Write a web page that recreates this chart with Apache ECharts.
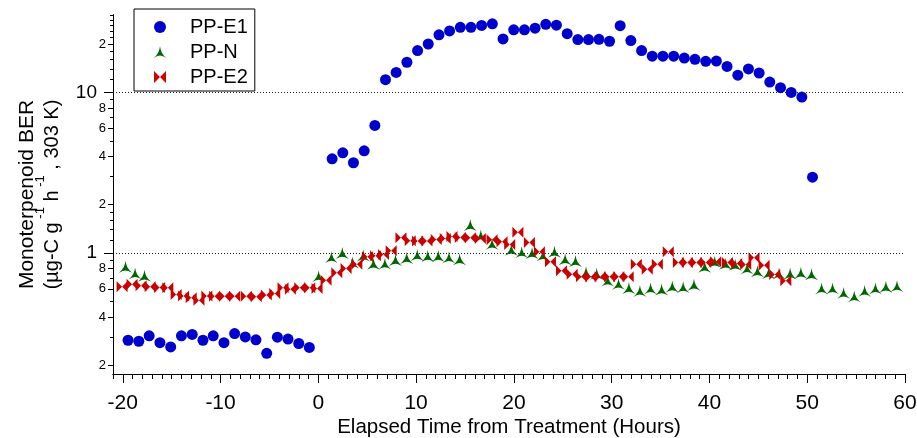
<!DOCTYPE html>
<html><head><meta charset="utf-8">
<script src="https://cdn.jsdelivr.net/npm/echarts@6/dist/echarts.min.js"></script>
<style>html,body{margin:0;padding:0;background:#fff}#c{width:917px;height:438px}</style>
</head><body><div id="c"></div>
<script>
// ---- data (hours from treatment, BER values) ----
const e1Hours = [-19.46,-18.36,-17.30,-16.20,-15.10,-14.00,-12.90,-11.80,-10.75,-9.65,-8.56,-7.47,-6.38,-5.28,-4.19,-3.10,-2.00,-0.92,
  1.41,2.50,3.59,4.69,5.78,6.87,7.96,9.06,10.15,11.24,12.34,13.42,14.52,15.61,16.70,17.80,18.89,19.98,21.08,22.17,23.26,24.35,25.45,26.54,27.63,
  28.70,29.78,30.87,31.96,33.06,34.15,35.24,36.34,37.43,38.52,39.62,40.71,41.80,42.90,43.99,45.08,46.17,47.27,48.36,49.45,50.54];
const e1Values = [0.287,0.283,0.306,0.277,0.261,0.306,0.312,0.287,0.306,0.277,0.316,0.301,0.289,0.238,0.300,0.292,0.274,0.259,
  3.86,4.21,3.65,4.33,6.23,12.0,13.3,15.4,18.2,20.0,22.8,24.1,25.4,25.4,26.1,26.7,21.5,24.5,24.5,25.1,26.5,26.2,23.2,21.3,21.3,
  21.4,20.8,26.0,21.0,18.2,16.8,16.8,16.8,16.35,16.05,15.6,15.66,14.5,12.8,14.0,13.2,11.6,10.7,10.0,9.35,2.97];

const nHours = [-19.72,-18.74,-17.78,0.03,1.34,2.45,3.51,4.60,5.64,6.81,7.89,9.04,10.12,11.19,12.27,13.36,14.45,15.54,16.62,17.77,
  19.74,20.80,21.86,22.97,24.15,25.24,26.30,27.38,28.47,29.60,30.70,31.76,32.89,33.98,35.11,36.20,37.31,38.42,39.51,40.54,41.66,
  42.64,43.85,44.91,46.05,47.12,48.25,49.35,50.44,51.47,52.59,53.72,54.81,55.87,56.98,58.05,59.18];
const nValues = [0.822,0.748,0.722,0.719,0.944,1.000,0.873,0.965,0.858,0.860,0.905,0.931,0.972,0.958,0.958,0.940,0.915,1.494,1.285,1.141,
  1.048,1.014,1.000,0.968,1.019,0.915,0.892,0.760,0.743,0.674,0.643,0.606,0.582,0.603,0.593,0.619,0.614,0.635,0.822,0.883,0.858,
  0.846,0.803,0.770,0.751,0.748,0.746,0.754,0.738,0.603,0.603,0.565,0.538,0.582,0.603,0.617,0.623];

const e2Hours = [-20.07,-19.05,-18.13,-17.20,-16.24,-15.39,-14.54,-13.78,-13.00,-12.21,-11.40,-10.61,-9.58,-8.56,-7.37,-6.35,-5.32,-4.46,-3.61,-2.86,-1.90,-0.88,-0.13,
  0.79,1.89,2.84,3.94,5.02,5.84,6.66,7.45,8.45,9.40,10.15,11.11,12.06,12.98,13.67,14.52,15.54,16.57,17.77,18.79,19.57,20.41,21.59,22.61,23.74,24.87,
  25.96,26.91,27.87,28.82,29.78,30.73,31.69,32.52,33.64,34.67,35.79,36.82,37.74,38.66,39.62,40.64,41.84,42.79,43.71,44.56,45.59,46.68,47.81];
const e2Values = [0.617,0.641,0.626,0.617,0.612,0.608,0.553,0.542,0.527,0.510,0.542,0.540,0.540,0.540,0.540,0.535,0.548,0.561,0.608,0.597,0.608,0.608,0.603,
  0.679,0.754,0.803,0.854,0.948,0.962,0.981,1.033,1.245,1.192,1.188,1.188,1.217,1.235,1.270,1.252,1.245,1.235,1.210,1.176,1.133,1.350,1.166,1.019,0.883,0.776,
  0.740,0.712,0.712,0.712,0.712,0.712,0.712,0.854,0.795,0.854,1.019,0.875,0.875,0.875,0.875,0.883,0.875,0.863,0.851,0.935,0.842,0.737,0.672];

const seriesNames = ['PP-E1','PP-N','PP-E2'];
const xTickValues = [-20,-10,0,10,20,30,40,50,60];
const xTickLabels = ['-20','-10','0','10','20','30','40','50','60'];
const yTickValues = [0.2,0.4,0.6,0.8,1,2,4,6,8,10,20];
const yTickLabels = ['2','4','6','8','1','2','4','6','8','10','2'];
const yDecadeTicks = [1,10];
const ySmallTicks = [0.2,0.4,0.6,0.8,2,4,6,8,20];
const yMinorTicks = [0.3,0.5,0.7,0.9,1.2,1.4,1.6,1.8,3,5,7,9,12,14,16,18,22,24,26,28,30];
const xTitle = 'Elapsed Time from Treatment (Hours)';

// ---- build ----
const xMinorTicks = [];
for (let h = -21; h <= 60; h++) xMinorTicks.push(h);
const yAllTicks = yMinorTicks.concat(ySmallTicks, yDecadeTicks);
const zip = (a, b) => a.map((v, i) => [v, b[i]]);

const FONT = "'Liberation Sans', Arial, sans-serif";
const arrowPath = 'path://M50,0 C54,38 68,72 100,100 C76,86 62,80 50,80 C38,80 24,86 0,100 C32,72 46,38 50,0 Z';
const bowPath = 'path://M0,0 L50,50 L0,100 Z M100,0 L50,50 L100,100 Z';
const X_MIN = -21, X_MAX = 60, Y_MIN = 0.177, Y_MAX = 30.3;

function nearestLabel(vals, labels, v) {
  let best = 0, bd = Infinity;
  vals.forEach((t, i) => { const d = Math.abs(Math.log(t) - Math.log(v)); if (d < bd) { bd = d; best = i; } });
  return labels[best];
}

const chart = echarts.init(document.getElementById('c'), null, {renderer: 'canvas'});
const yBase = {type: 'log', logBase: 10, min: Y_MIN, max: Y_MAX, position: 'left', offset: 0, splitLine: {show: false}};
const xBase = {type: 'value', min: X_MIN, max: X_MAX, position: 'bottom', offset: 0, splitLine: {show: false}};
const tickLine = {color: '#000', width: 1};

chart.setOption({
  animation: false,
  backgroundColor: '#fff',
  grid: {left: 113, right: 12, top: 15, bottom: 64, containLabel: false, outerBoundsMode: 'none'},
  legend: {
    orient: 'vertical', left: 134, top: 9, padding: [8, 7, 4, 20], itemGap: 5,
    itemWidth: 12, itemHeight: 12, borderColor: '#000', borderWidth: 1, borderRadius: 0,
    backgroundColor: '#fff',
    textStyle: {fontFamily: FONT, fontSize: 20, color: '#000', padding: [0, 0, 0, 19]},
    data: [{name: seriesNames[0], icon: 'circle'}, {name: seriesNames[1], icon: arrowPath}, {name: seriesNames[2], icon: bowPath}]
  },
  xAxis: [
    Object.assign({}, xBase, {
      axisLine: {show: true, onZero: false, lineStyle: {color: '#000', width: 1}},
      axisTick: {show: true, customValues: xMinorTicks, length: 5, lineStyle: tickLine},
      axisLabel: {customValues: xTickValues, margin: 19, color: '#000', fontFamily: FONT, fontSize: 21,
        formatter: v => xTickLabels[xTickValues.indexOf(Math.round(v))]},
      name: xTitle, nameLocation: 'middle', nameGap: 43, nameMoveOverlap: false,
      nameTextStyle: {fontFamily: FONT, fontSize: 20.5, color: '#000'}
    }),
    Object.assign({}, xBase, {
      axisLine: {show: true, onZero: false, lineStyle: {color: '#000', width: 1}},
      axisTick: {show: true, customValues: xTickValues, length: 9, lineStyle: tickLine},
      axisLabel: {show: false}
    })
  ],
  yAxis: [
    Object.assign({}, yBase, {
      axisLine: {show: true, onZero: false, lineStyle: {color: '#000', width: 1}},
      axisTick: {show: true, customValues: yAllTicks, length: 3, lineStyle: tickLine},
      axisLabel: {customValues: yTickValues, margin: 7, color: '#000', fontFamily: FONT,
        formatter: v => {
          const s = nearestLabel(yTickValues, yTickLabels, v);
          return (s === '1' || s === '10') ? '{big|' + s + '}' : '{sm|' + s + '}';
        },
        rich: {big: {fontFamily: FONT, fontSize: 19, color: '#000', padding: [0, 9, 0, 0]},
               sm: {fontFamily: FONT, fontSize: 13, color: '#000'}}},
      name: '{a|Monoterpenoid BER}\n{t|(µg-C g}{s| -1}{t| h}{s| -1}{t| , 303 K)}',
      nameLocation: 'middle', nameRotate: 90, nameGap: 49, nameMoveOverlap: false,
      nameTextStyle: {fontFamily: FONT, color: '#000',
        rich: {a: {fontFamily: FONT, fontSize: 21, color: '#000', lineHeight: 25},
               t: {fontFamily: FONT, fontSize: 20, color: '#000', lineHeight: 24},
               s: {fontFamily: FONT, fontSize: 13, color: '#000', lineHeight: 13, padding: [0, 0, 24, 0]}}}
    }),
    Object.assign({}, yBase, {
      axisLine: {show: true, onZero: false, lineStyle: {color: '#000', width: 1}},
      axisTick: {show: true, customValues: ySmallTicks, length: 5, lineStyle: tickLine},
      axisLabel: {show: false}
    }),
    Object.assign({}, yBase, {
      axisLine: {show: true, onZero: false, lineStyle: {color: '#000', width: 1}},
      axisTick: {show: true, customValues: yDecadeTicks, length: 9, lineStyle: tickLine},
      axisLabel: {show: false}
    })
  ],
  series: [
    {name: seriesNames[0], type: 'scatter', data: zip(e1Hours, e1Values), symbol: 'circle', symbolSize: 11,
     itemStyle: {color: '#0000CC', opacity: 1},
     markLine: {silent: true, symbol: ['none', 'none'], label: {show: false}, animation: false,
       lineStyle: {color: '#222', type: [1, 2], width: 1}, emphasis: {disabled: true},
       data: [{yAxis: 1}, {yAxis: 10}]}},
    {name: seriesNames[1], type: 'scatter', data: zip(nHours, nValues), symbol: arrowPath, symbolSize: [13, 12],
     itemStyle: {color: '#006600', opacity: 1}},
    {name: seriesNames[2], type: 'scatter', data: zip(e2Hours, e2Values), symbol: bowPath, symbolSize: [11, 11],
     itemStyle: {color: '#CC0000', opacity: 1}}
  ]
});
</script></body></html>
